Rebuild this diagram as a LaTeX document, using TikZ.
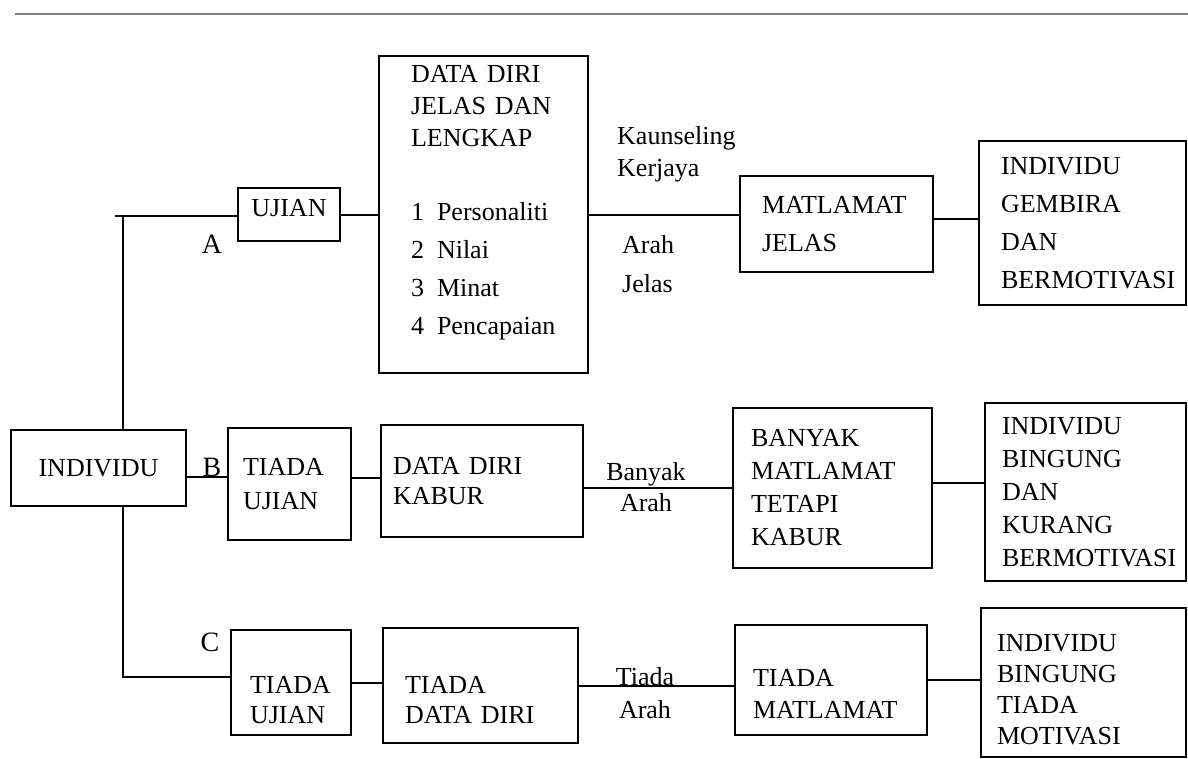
\documentclass[tikz,border=0pt]{standalone}
\usepackage{fontspec}
\setmainfont{Liberation Serif}

\begin{document}
\begin{tikzpicture}[x=1pt,y=-1pt]
  \tikzset{kotak/.style={draw,line width=2pt,align=left,inner ysep=0pt,inner xsep=#1},
           kotak/.default=18pt,
           baris/.style={font=\fontsize{26}{#1}\selectfont},
           baris/.default=32,
           huruf/.style={font=\fontsize{28}{28}\selectfont,inner sep=0pt},
           ket/.style={inner sep=0pt},
           garis/.style={line width=2pt}}

  \useasboundingbox (0,0) rectangle (1188,758);
  \draw [gray,line width=1.2pt] (15,14) -- (1188,14);

  % kiri
  \node [kotak=10pt,baris=30,align=center,text width=155pt,minimum height=76pt] (indiv) at (98.5,468) {INDIVIDU};

  % baris A
  \node [kotak=5pt,baris=30,align=center,text width=92pt,minimum height=53pt] (ujianA) at (289,214.5) {UJIAN\rule[-14pt]{0pt}{0pt}};
  \node [kotak=32pt,baris=32,text width=145pt,minimum height=317pt] (dataA) at (483.5,214.5)
    {DATA DIRI\\JELAS DAN\\LENGKAP\\[42pt]1\enspace Personaliti\\[6pt]2\enspace Nilai\\[6pt]3\enspace Minat\\[6pt]4\enspace Pencapaian\rule[-29pt]{0pt}{0pt}};
  \node [kotak=22pt,baris=38,text width=149pt,minimum height=96pt] (matA) at (836.5,224) {MATLAMAT\\JELAS};
  \node [kotak=22pt,baris=38,text width=163pt,minimum height=164pt] (hasilA) at (1082.5,223) {INDIVIDU\\GEMBIRA\\DAN\\BERMOTIVASI};

  % baris B
  \node [kotak=15pt,baris=34,text width=93pt,minimum height=112pt] (ujianB) at (289.5,484) {TIADA\\UJIAN};
  \node [kotak=12pt,baris=30,text width=178pt,minimum height=112pt] (dataB) at (482,481) {DATA DIRI\\KABUR};
  \node [kotak=18pt,baris=33,text width=163pt,minimum height=160pt] (matB) at (832.5,488) {BANYAK\\MATLAMAT\\TETAPI\\KABUR};
  \node [kotak=17pt,baris=33,text width=167pt,minimum height=178pt] (hasilB) at (1085.5,492) {INDIVIDU\\BINGUNG\\DAN\\KURANG\\BERMOTIVASI};

  % baris C
  \node [kotak=19pt,baris=30,text width=82pt,minimum height=105pt] (ujianC) at (291,682.5) {\rule{0pt}{52pt}TIADA\\UJIAN};
  \node [kotak=22pt,baris=30,text width=151pt,minimum height=115pt] (dataC) at (480.5,685.5) {\rule{0pt}{46pt}TIADA\\DATA DIRI};
  \node [kotak=18pt,baris=32,text width=156pt,minimum height=110pt] (matC) at (831,680) {\rule{0pt}{44pt}TIADA\\MATLAMAT};
  \node [kotak=16pt,baris=31,text width=173pt,minimum height=149pt] (hasilC) at (1083.5,682.5) {\rule{0pt}{32pt}INDIVIDU\\BINGUNG\\TIADA\\MOTIVASI};

  \node [huruf] (lblA) at (212,244) {A};
  \node [huruf] (lblB) at (212,467) {B};
  \node [huruf] (lblC) at (210,642) {C};
  \node [ket,baris=32,align=left,anchor=west] (ketA1) at (617,154) {Kaunseling\\Kerjaya};
  \node [ket,baris=39,align=left,anchor=west] (ketA2) at (622,264) {Arah\\Jelas};
  \node [ket,baris=31,align=center] (ketB) at (646,487) {Banyak\\Arah};
  \node [ket,baris=33,align=center] (ketC) at (645,693) {Tiada\\Arah};

  % garis
  \coordinate (tA) at (123,216);
  \coordinate (tC) at (123,677);
  \draw [garis] ([xshift=-8pt]tA) -- (tA -| ujianA.west);
  \draw [garis] (tA) -- (tA |- indiv.north);
  \draw [garis] (tC |- indiv.south) -- (tC) -- (tC -| ujianC.west);
  \draw [garis] ([yshift=-9pt]indiv.east) -- ([yshift=-9pt]indiv.east -| ujianB.west);
  \draw [garis] (ujianA) -- (dataA);
  \draw [garis] (dataA.east) -- (dataA.east -| matA.west);
  \draw [garis] ([yshift=5pt]matA.east) -- ([yshift=5pt]matA.east -| hasilA.west);
  \draw [garis] ([yshift=6pt]ujianB.east) -- ([yshift=6pt]ujianB.east -| dataB.west);
  \draw [garis] (matB.west -| dataB.east) -- (matB.west);
  \draw [garis] ([yshift=5pt]matB.east) -- ([yshift=5pt]matB.east -| hasilB.west);
  \draw [garis] (ujianC.east) -- (ujianC.east -| dataC.west);
  \draw [garis] (dataC.east) -- (dataC.east -| matC.west);
  \draw [garis] (matC.east) -- (matC.east -| hasilC.west);
\end{tikzpicture}
\end{document}
